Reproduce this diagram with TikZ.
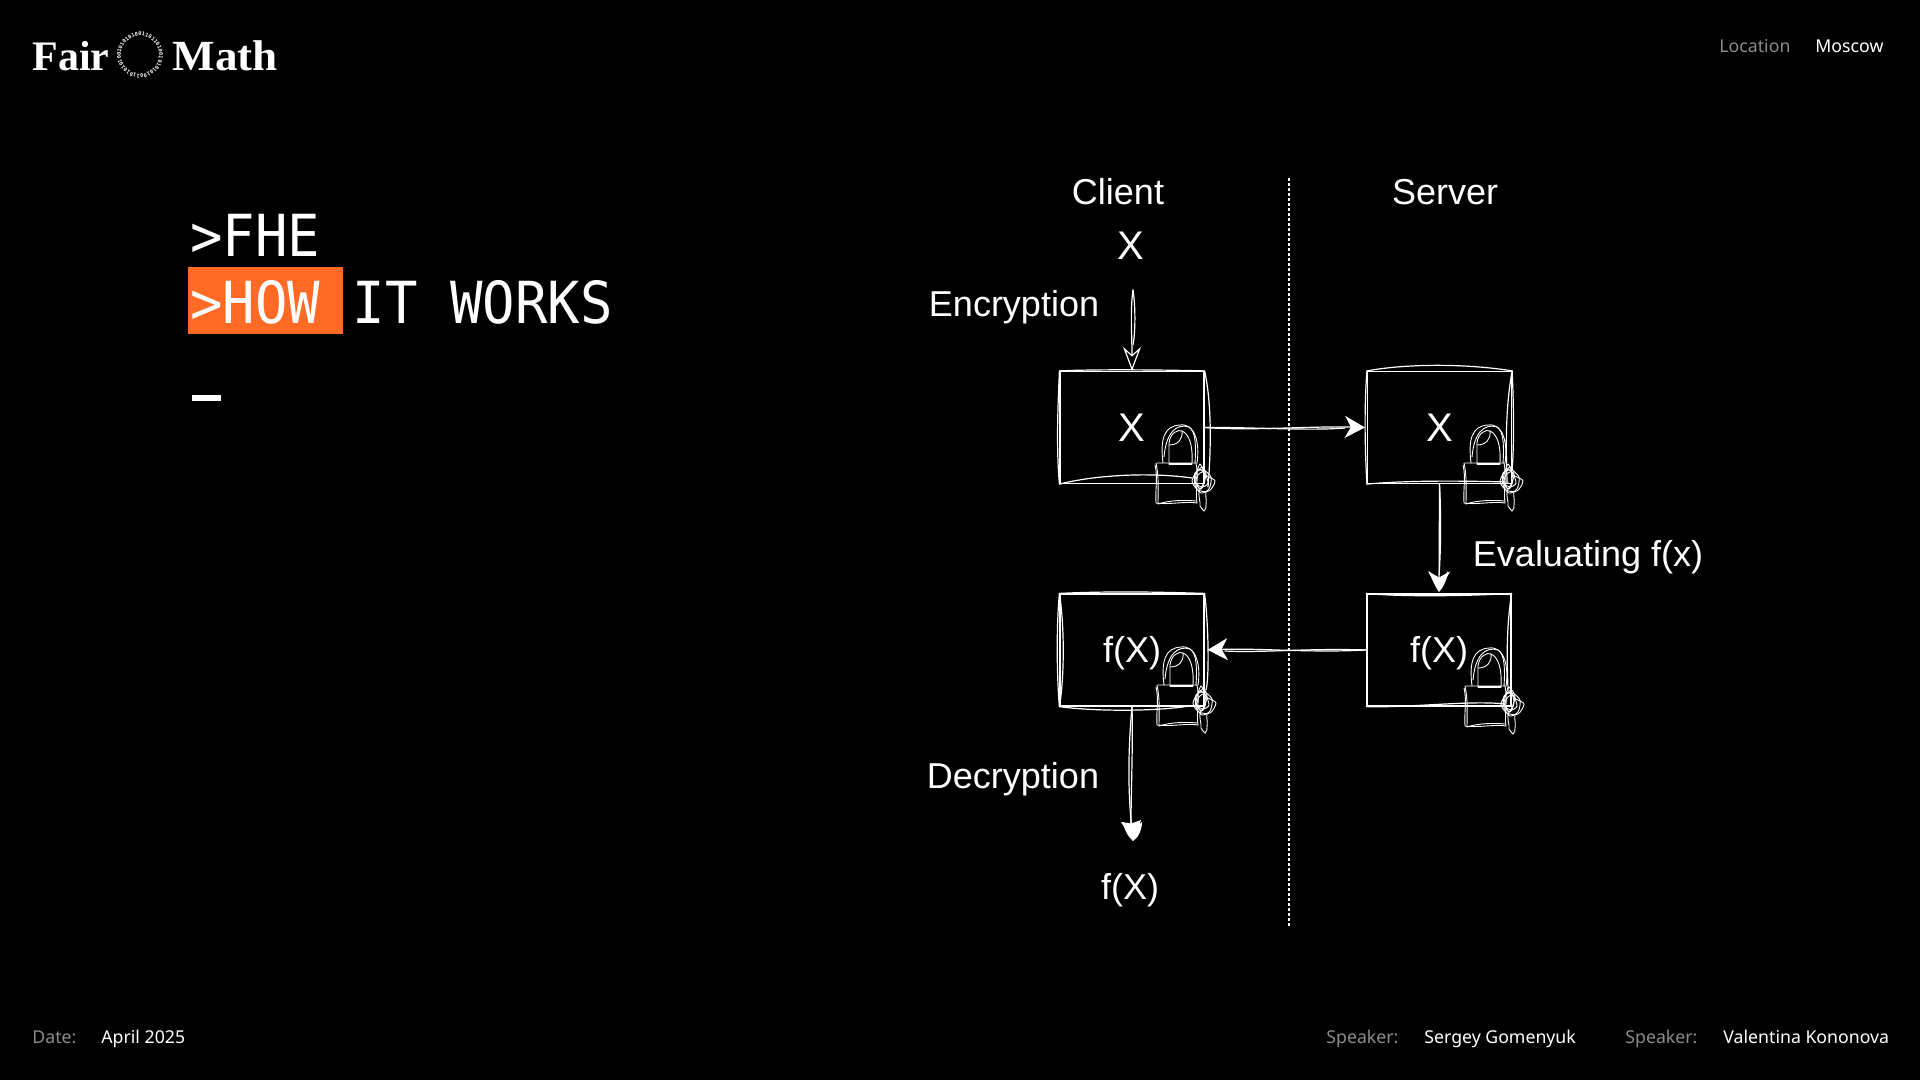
\documentclass[tikz,border=0pt]{standalone}
\usepackage{fontspec}
\setmainfont{Liberation Sans}
\newfontfamily\logofont{Liberation Serif}
\newfontfamily\logowide[FakeStretch=1.05]{Liberation Serif}
\newfontfamily\titlefont[FakeStretch=0.93]{DejaVu Sans Mono}
\newfontfamily\ringfont{DejaVu Sans Mono}
\newfontfamily\footfont{Noto Sans}
\usetikzlibrary{arrows.meta}
\definecolor{accent}{HTML}{FF6A24}
\definecolor{softgray}{HTML}{8C8C8C}
\newcommand{\fsz}[1]{\fontsize{#1}{#1}\selectfont}
\tikzset{
  x=0.5pt,y=-0.5pt,
  sk/.style={draw=white,line width=0.6pt,line cap=round,line join=round},
  skthin/.style={draw=white,line width=0.45pt,line cap=round,line join=round},
  boxnode/.style={draw=white,line width=0.6pt,minimum width=72pt,minimum height=56pt,inner sep=0pt,text=white,font=\fsz{18}},
  label/.style={text=white,font=\fsz{18},anchor=base,inner sep=0pt},
  title/.style={text=white,font=\titlefont\fsz{29},anchor=base west,inner sep=0pt},
  foot/.style={font=\footfont\fsz{8.85},anchor=base west,inner sep=0pt,text=white},
  footgray/.style={foot,text=softgray},
  ftip/.style={-{Stealth[length=10pt,width=11pt,inset=3pt,fill=white]}},
  otip/.style={-{Stealth[open,length=12pt,width=9pt,inset=4pt,line width=0.6pt]}},
  stip/.style={-{Stealth[length=10pt,width=10pt,inset=1.2pt,fill=white]}},
  pics/lock/.style={code={
    % body
    \draw[skthin] (-3,2) .. controls (0,14) and (-3,28) .. (-2,40) .. controls (10,42) and (28,38) .. (39,40);
    \draw[skthin] (-1,0) -- (38,0) .. controls (41,14) and (37,28) .. (39,40);
    \draw[skthin] (-2,0) .. controls (1,14) and (0,26) .. (0,41) .. controls (12,37) and (28,37) .. (38,38);
    % shackle
    \draw[skthin] (5,0) .. controls (2,-24) and (6,-37) .. (22,-38) .. controls (37,-40) and (42,-20) .. (39,0);
    \draw[skthin] (6,-6) .. controls (8,-30) and (18,-40) .. (31,-36) .. controls (38,-32) and (38,-15) .. (37,0);
    \draw[skthin] (11,0) -- (11,-20) .. controls (12,-30) and (20,-34) .. (24,-32) .. controls (31,-29) and (35,-18) .. (34,0);
    \draw[skthin] (11,-18) .. controls (20,-18) and (25,-24) .. (24,-32);
    \draw[skthin] (11,0) -- (34,0) (11,1.5) -- (34,1.5);
    % key
    \draw[skthin] plot[smooth cycle] coordinates {(37,10) (45,7) (53,14) (51,26) (43,30) (37,22)};
    \draw[skthin] plot[smooth cycle] coordinates {(41,6) (49,13) (57,18) (51,28) (40,27) (34,18)};
    \draw[skthin] plot[smooth cycle] coordinates {(42,1) (47,16) (43,26) (37,18)};
    \draw[skthin] plot[smooth cycle] coordinates {(40,12) (46,9) (50,20) (44,24) (38,20)};
    \draw[skthin] plot[smooth cycle] coordinates {(36,14) (44,4) (48,12) (42,26)};
    \draw[skthin] (42,26) .. controls (39,33) and (43,38) .. (42,43) .. controls (43,45) and (45,47) .. (46,48);
    \draw[skthin] (48,28) .. controls (47,33) and (49,37) .. (48,42) .. controls (49,44) and (47,47) .. (46,48);
  }}
}
\begin{document}
\begin{tikzpicture}
\fill[black] (0,0) rectangle (1920,1080);
\useasboundingbox (0,0) rectangle (1920,1080);

% logo
\node[text=white,font=\logofont\bfseries\fsz{21},anchor=base west,inner sep=0pt] (fair) at (32,70.5) {Fair};
\node[text=white,font=\logowide\bfseries\fsz{21.5},anchor=base west,inner sep=0pt] (math) at (172,70.5) {Math};
\foreach \d [count=\i] in {0,1,1,0,1,1,0,1,0,0,1,0,1,0,1,0,1,0,0,1,1,0,1,0,1,0,1,0,0,1,0,1,0,1,0,1,0}{
  \pgfmathsetmacro{\ang}{90-(\i-1)*9.73}
  \node[text=white,font=\ringfont\bfseries\fsz{2.6},inner sep=0pt,rotate=\ang-90] (ring\i) at ({140+21*cos(\ang)},{55-21*sin(\ang)}) {\d};
}

% header / footer
\node[footgray] (loc) at (1719,52.5) {Location};
\node[foot] (city) at (1815,52.5) {Moscow};
\node[footgray] (datel) at (32,1043) {Date:};
\node[foot] (date) at (101,1043) {April 2025};
\node[footgray] (sp1) at (1326,1043) {Speaker:};
\node[foot] (sp1n) at (1424,1043) {Sergey Gomenyuk};
\node[footgray] (sp2) at (1625,1043) {Speaker:};
\node[foot] (sp2n) at (1723,1043) {Valentina Kononova};

% title
\fill[accent] (188,267) rectangle (343,334);
\node[title] (t1) at (190,256.5) {>FHE};
\node[title] (t2) at (190,323.5) {>HOW IT WORKS};
\fill[white] (192,395) rectangle (221,401);

% divider
\coordinate (dtop) at (1289,178);
\coordinate (dbot) at (1289,928);
\draw[white,line width=0.75pt,dash pattern=on 1.5pt off 1pt] (dtop) -- (dbot);

% labels
\node[label] (client) at (1118,205) {Client};
\node[label] (server) at (1445,205) {Server};
\node[label,font=\fsz{20}] (xtop) at (1131,260) {X};
\node[label] (enc) at (1014,317) {Encryption};
\node[label] (dec) at (1013,788) {Decryption};
\node[label] (eval) at (1588,566) {Evaluating f(x)};
\node[label] (fbot) at (1130,899) {f(X)};

% boxes
\node[boxnode,font=\fsz{20}] (b1) at (1132,427.5) {X};
\node[boxnode,font=\fsz{20}] (b2) at (1439.5,427.5) {X};
\node[boxnode] (b3) at (1132,650) {\raisebox{-6.2pt}[0pt][0pt]{f(X)}};
\node[boxnode] (b4) at (1439,650) {\raisebox{-6.2pt}[0pt][0pt]{f(X)}};

% sketch doubles of the boxes
\draw[sk] (b1.north west) .. controls (1058,405) and (1056,445) .. (b1.south west);
\draw[sk] (b1.north west) .. controls (1100,369) and (1170,370) .. (b1.north east);
\draw[sk] (b1.north east) .. controls (1212,405) and (1211,450) .. (1208,487);
\draw[sk] (b1.south west) .. controls (1095,475) and (1150,472) .. (1192,478);

\draw[sk] (b2.north west) .. controls (1410,363) and (1470,364) .. (b2.north east);
\draw[sk] (b2.north east) .. controls (1505,410) and (1506,450) .. (1507,481);
\draw[sk] (b2.north east) .. controls (1514,410) and (1514,450) .. (1512,470);
\draw[sk] (b2.north west) .. controls (1364,410) and (1365,450) .. (b2.south west);
\draw[sk] (b2.south west) .. controls (1410,480) and (1470,481) .. (1508,482);

\draw[sk] (b3.north west) .. controls (1056,630) and (1057,680) .. (b3.south west);
\draw[sk] (b3.north west) .. controls (1065,630) and (1064,680) .. (b3.south west);
\draw[sk] (b3.north west) .. controls (1110,591) and (1160,592) .. (b3.north east);
\draw[sk] (b3.north east) .. controls (1209,630) and (1209,680) .. (1206,690);
\draw[sk] (b3.south west) .. controls (1090,711) and (1150,712) .. (1190,706);

\draw[sk] (b4.north west) .. controls (1400,597) and (1470,596) .. (b4.north east);
\draw[sk] (b4.north east) .. controls (1506,630) and (1507,660) .. (1508,690);
\draw[sk] (b4.south west) .. controls (1410,708) and (1470,700) .. (1505,704);

% locks
\pic (l1) at (1158,463) {lock};
\pic (l2) at (1466,463) {lock};
\pic (l3) at (1159,685) {lock};
\pic (l4) at (1467,686) {lock};

% connectors
\coordinate (estart) at (1133,290);
\coordinate (esplit) at (1133,345);
\draw[sk,otip] (estart) .. controls (1130,310) and (1132,335) .. (b1.north);
\draw[sk] (estart) .. controls (1136,310) and (1135,335) .. (esplit);

\draw[sk,ftip,shorten >=1pt] (b1.east) .. controls (1250,431) and (1310,426) .. (b2.west);
\draw[sk] (b1.east) .. controls (1250,427) and (1310,431) .. (1345,428);

\draw[sk,ftip,shorten >=1pt] (b2.south) -- (b4.north);
\draw[sk] (b2.south) .. controls (1441,510) and (1441,550) .. (1439,575);
\fill[white] (1429,571) .. controls (1432,580) and (1436,588) .. (1439,592) .. controls (1443,588) and (1447,580) .. (1448,571) .. controls (1445,576) and (1442,578) .. (1439,578) .. controls (1436,578) and (1432,575) .. (1429,571) -- cycle;

\draw[sk,ftip,shorten >=1.5pt] (b4.west) .. controls (1310,653) and (1260,648) .. (b3.east);
\draw[sk] (b4.west) .. controls (1310,648) and (1260,653) .. (1225,651);

\coordinate (dtip) at (1133,841);
\draw[sk,stip] (b3.south) .. controls (1128,750) and (1128,790) .. (dtip);
\draw[sk] (b3.south) .. controls (1133,750) and (1131,790) .. (1131,825);
\fill[white] (1123,822) .. controls (1124,830) and (1129,838) .. (1133,841) .. controls (1138,838) and (1142,830) .. (1142,822) .. controls (1139,825) and (1136,826) .. (1133,826) .. controls (1129,826) and (1126,825) .. (1123,822) -- cycle;
\end{tikzpicture}
\end{document}
